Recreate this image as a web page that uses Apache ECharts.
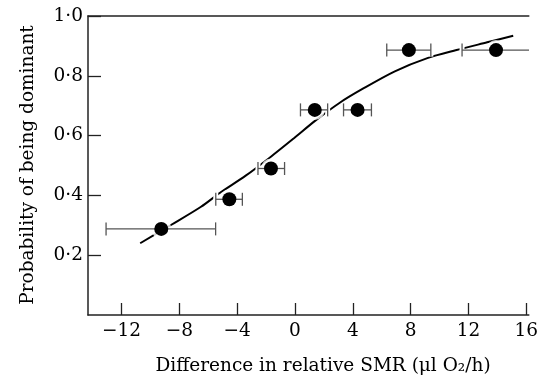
<!DOCTYPE html>
<html>
<head>
<meta charset="utf-8">
<script src="https://cdn.jsdelivr.net/npm/echarts@6/dist/echarts.min.js"></script>
<style>
  html, body { margin: 0; padding: 0; background: #fff; }
  #chart { width: 541px; height: 377px; }
</style>
</head>
<body>
<div id="chart"></div>
<script>
// Observed group means with horizontal error ranges
const pointX = [-9.25, -4.54, -1.66, 1.37, 4.33, 7.88, 13.91];
const pointY = [0.288, 0.387, 0.49, 0.686, 0.686, 0.886, 0.886];
const errLow = [-13.07, -5.48, -2.56, 0.38, 3.36, 6.35, 11.56];
const errHigh = [-5.49, -3.64, -0.72, 2.26, 5.29, 9.40, 16.3];

// Fitted curve, sampled along its length
const curveX = [-10.71, -8.58, -6.5, -5.21, -3.41, -1.73, -0.05, 1.41, 3.10, 4.67, 6.91, 9.16, 11.18, 13.3, 15.10];
const curveY = [0.240, 0.301, 0.362, 0.408, 0.466, 0.527, 0.592, 0.650, 0.710, 0.756, 0.815, 0.859, 0.886, 0.912, 0.934];

// Axis ticks and their printed labels
const xTicks = [-12, -8, -4, 0, 4, 8, 12, 16];
const xTickLabels = ['\u221212', '\u22128', '\u22124', '0', '4', '8', '12', '16'];
const yTicks = [0.2, 0.4, 0.6, 0.8, 1.0];
const yTickLabels = ['0\u00b72', '0\u00b74', '0\u00b76', '0\u00b78', '1\u00b70'];

const xTitle = 'Difference in relative SMR (\u03bcl O\u2082/h)';
const yTitle = 'Probability of being dominant';

const FONT = 'DejaVu Serif';
const INK = '#222';

function labelFor(ticks, labels) {
  return function (v) {
    const i = ticks.findIndex(t => Math.abs(t - v) < 1e-6);
    return i >= 0 ? labels[i] : '';
  };
}

const points = pointX.map((x, i) => [x, pointY[i]]);
const bars = pointX.map((x, i) => [x, pointY[i], errLow[i], errHigh[i]]);
const curve = curveX.map((x, i) => [x, curveY[i]]);

// Horizontal error bar with end caps; the halo pass paints white caps
// underneath so the fitted curve breaks where it meets them.
function errorBar(halo) {
  return function (params, api) {
    const y = api.value(1);
    const a = api.coord([api.value(2), y]);
    const b = api.coord([api.value(3), y]);
    const h = 6.5;
    const style = halo
      ? { stroke: '#fff', lineWidth: 5 }
      : { stroke: '#555', lineWidth: 1.3 };
    const children = [];
    if (!halo) {
      children.push({ type: 'line', shape: { x1: a[0], y1: a[1], x2: b[0], y2: b[1] }, style: style });
    }
    children.push({ type: 'line', shape: { x1: a[0], y1: a[1] - h, x2: a[0], y2: a[1] + h }, style: style });
    children.push({ type: 'line', shape: { x1: b[0], y1: b[1] - h, x2: b[0], y2: b[1] + h }, style: style });
    return { type: 'group', children: children };
  };
}

const chart = echarts.init(document.getElementById('chart'), null, { renderer: 'canvas' });

const axisLine = { show: true, onZero: false, lineStyle: { color: INK, width: 1.5 } };

chart.setOption({
  backgroundColor: '#fff',
  animation: false,
  grid: { left: 88, right: 0, top: 16, bottom: 62, containLabel: false },
  xAxis: [
    {
      type: 'value', min: -14.32, max: 16.18, position: 'bottom',
      axisLine: axisLine,
      splitLine: { show: false },
      axisTick: { show: true, inside: true, length: 12, customValues: xTicks, lineStyle: { color: INK, width: 1.3 } },
      axisLabel: {
        customValues: xTicks, formatter: labelFor(xTicks, xTickLabels),
        margin: 7, color: '#000', fontFamily: FONT, fontSize: 18.5
      }
    },
    {
      type: 'value', min: -14.32, max: 16.18, position: 'top',
      axisLine: axisLine, splitLine: { show: false },
      axisTick: { show: false }, axisLabel: { show: false }
    }
  ],
  yAxis: {
    type: 'value', min: 0, max: 1,
    axisLine: axisLine,
    splitLine: { show: false },
    axisTick: { show: true, inside: true, length: 13, customValues: yTicks, lineStyle: { color: INK, width: 1.3 } },
    axisLabel: {
      customValues: yTicks, formatter: labelFor(yTicks, yTickLabels),
      margin: 5, color: '#000', fontFamily: FONT, fontSize: 18.5
    }
  },
  graphic: [
    {
      type: 'text', x: 323, y: 366,
      style: { text: xTitle, fontFamily: FONT, fontSize: 18.5, fill: '#000', align: 'center', verticalAlign: 'middle' }
    },
    {
      type: 'text', x: 28, y: 165, rotation: Math.PI / 2,
      style: { text: yTitle, fontFamily: FONT, fontSize: 18.5, fill: '#000', align: 'center', verticalAlign: 'middle' }
    }
  ],
  series: [
    {
      type: 'line', data: curve, smooth: 0.3, symbol: 'none', z: 1,
      lineStyle: { color: '#000', width: 2 }
    },
    {
      type: 'scatter', data: points, symbol: 'circle', symbolSize: 20, z: 2,
      itemStyle: { color: '#fff' }, silent: true
    },
    {
      type: 'custom', data: bars, renderItem: errorBar(true), clip: true, z: 2,
      encode: { x: [0, 2, 3], y: 1 }
    },
    {
      type: 'custom', data: bars, renderItem: errorBar(false), clip: true, z: 3,
      encode: { x: [0, 2, 3], y: 1 }
    },
    {
      type: 'scatter', data: points, symbol: 'circle', symbolSize: 14, z: 4,
      itemStyle: { color: '#000', opacity: 1 }
    }
  ]
});
</script>
</body>
</html>
